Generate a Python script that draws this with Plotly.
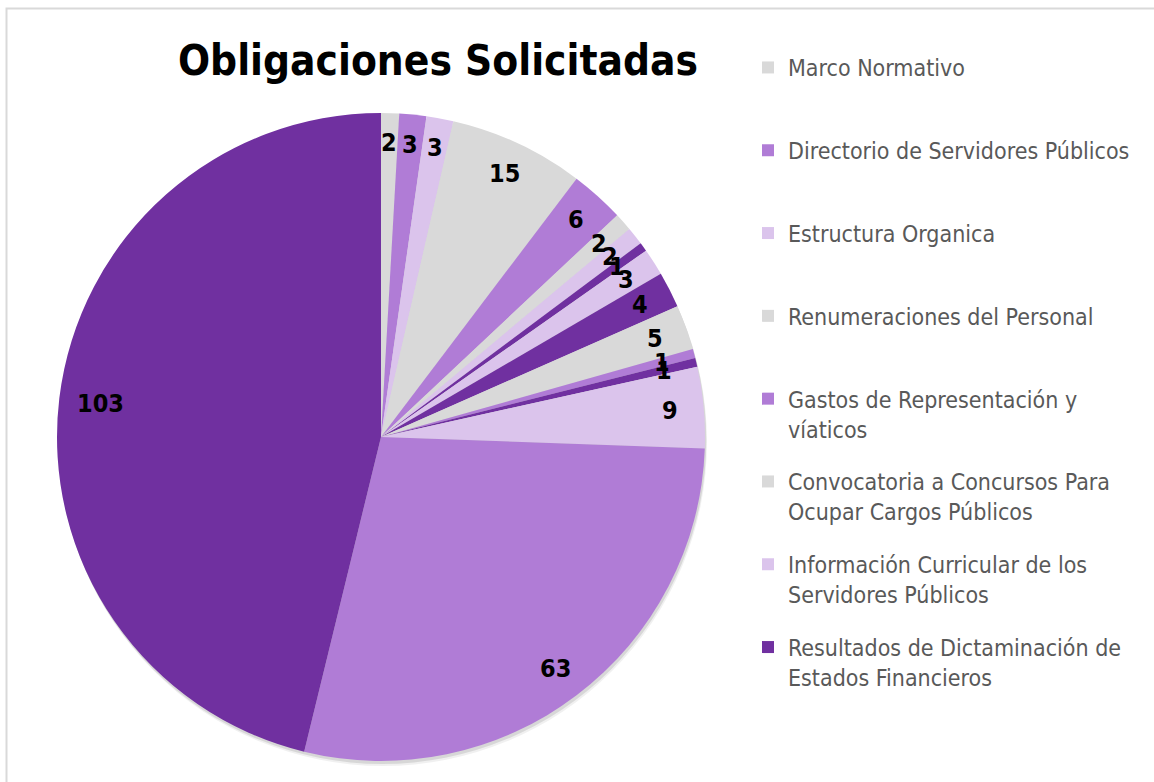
import math
import plotly.graph_objects as go

# ---------------- data ----------------
title_text = "Obligaciones Solicitadas"

legend_labels = [
    "Marco Normativo",
    "Directorio de Servidores Públicos",
    "Estructura Organica",
    "Renumeraciones del Personal",
    "Gastos de Representación y<br>víaticos",
    "Convocatoria a Concursos Para<br>Ocupar Cargos Públicos",
    "Información Curricular de los<br>Servidores Públicos",
    "Resultados de Dictaminación de<br>Estados Financieros",
]

slice_labels = [
    "Marco Normativo",
    "Directorio de Servidores Públicos",
    "Estructura Organica",
    "Renumeraciones del Personal",
    "Gastos de Representación y víaticos",
    "Convocatoria a Concursos Para Ocupar Cargos Públicos",
    "Información Curricular de los Servidores Públicos",
    "Resultados de Dictaminación de Estados Financieros",
    "Obligación 9",
    "Obligación 10",
    "Obligación 11",
    "Obligación 12",
    "Obligación 13",
    "Obligación 14",
    "Obligación 15",
    "Obligación 16",
]
slice_values = [2, 3, 3, 15, 6, 2, 2, 1, 3, 4, 5, 1, 1, 9, 63, 103]

GRAY = "#D9D9D9"
MED = "#B07CD6"
LAV = "#DBC4EC"
DARK = "#7030A0"
slice_colors = [GRAY, MED, LAV, GRAY, MED, GRAY, LAV, DARK,
                LAV, DARK, GRAY, MED, DARK, LAV, MED, DARK]
legend_colors = slice_colors[:8]

# ---------------- layout geometry ----------------
W, H = 1154, 782
cx_px, cy_px, R_px = 381, 437, 324
dom_x = [(cx_px - R_px) / W, (cx_px + R_px) / W]
dom_y = [1 - (cy_px + R_px) / H, 1 - (cy_px - R_px) / H]

FONT = "DejaVu Sans Condensed, DejaVu Sans"

fig = go.Figure()

# soft shadow behind pie
for off, alpha in [(5, 0.06), (3, 0.10)]:
    fig.add_trace(go.Pie(
        values=[1], labels=["sombra"], sort=False,
        domain=dict(x=[dom_x[0] + off * 0.4 / W, dom_x[1] + off * 0.4 / W],
                    y=[dom_y[0] - off / H, dom_y[1] - off / H]),
        marker=dict(colors=[f"rgba(0,0,0,{alpha})"], line=dict(width=0)),
        textinfo="none", hoverinfo="skip", showlegend=False,
    ))

fig.add_trace(go.Pie(
    labels=slice_labels, values=slice_values, sort=False,
    direction="clockwise", rotation=0,
    domain=dict(x=dom_x, y=dom_y),
    marker=dict(colors=slice_colors, line=dict(width=0)),
    textinfo="none", showlegend=False,
    hovertemplate="%{label}: %{value}<extra></extra>",
))

# data labels positioned from the cumulative values
total = sum(slice_values)
cum = 0
for v in slice_values:
    theta = 2 * math.pi * (cum + v / 2) / total
    cum += v
    w_txt = 14 * len(str(v))
    r = 0.91 * R_px - 0.3 * w_txt * abs(math.sin(theta))
    xp = cx_px + r * math.sin(theta)
    yp = cy_px - r * math.cos(theta)
    fig.add_annotation(
        x=xp / W, y=1 - yp / H, xref="paper", yref="paper",
        text=f"<b>{v}</b>", showarrow=False,
        font=dict(family=FONT, size=25, color="black"),
        xanchor="center", yanchor="middle",
    )

# legend entries (only the first eight categories, as in the reference)
for i, (lab, col) in enumerate(zip(legend_labels, legend_colors)):
    text = lab if "<br>" in lab else lab + "<br>\u00a0"
    fig.add_trace(go.Scatter(
        x=[None], y=[None], mode="markers", name=text,
        marker=dict(symbol="square", size=12, color=col),
        legendgroup=f"g{i}", showlegend=True, hoverinfo="skip",
    ))

# chart-area border
fig.add_shape(type="rect", xref="paper", yref="paper",
              x0=6.5 / W, x1=1.05, y0=-0.05, y1=1 - 8.5 / H,
              line=dict(color="#D9D9D9", width=2), fillcolor="rgba(0,0,0,0)")

fig.update_layout(
    width=W, height=H,
    margin=dict(l=0, r=0, t=0, b=0),
    paper_bgcolor="white", plot_bgcolor="white",
    title=dict(text=f"<b>{title_text}</b>", x=438 / W, y=1 - 60 / H,
               xanchor="center", yanchor="middle",
               font=dict(family=FONT, size=42, color="black")),
    xaxis=dict(visible=False), yaxis=dict(visible=False),
    legend=dict(x=748 / W, y=1 - 46 / H, xanchor="left", yanchor="top",
                traceorder="grouped", tracegroupgap=20, valign="top",
                font=dict(family=FONT, size=23, color="#595959"),
                bgcolor="rgba(0,0,0,0)"),
)

fig.write_html(
    "out.html",
    config={"displayModeBar": False},
    post_script="document.body.style.margin='0';document.body.style.overflow='hidden';",
)
